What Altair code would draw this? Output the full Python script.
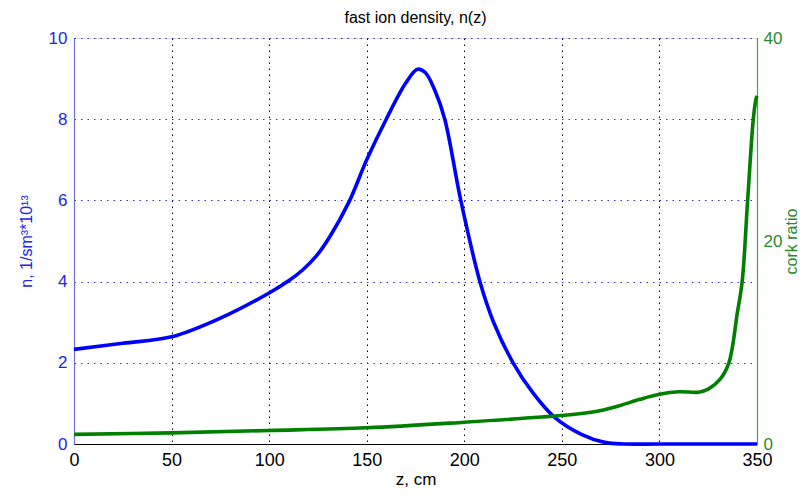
import altair as alt
import pandas as pd

# fast ion density n(z), units 1e13 1/cm^3
z_density = [0, 25, 50, 75, 100, 110, 117, 124, 131, 141, 150, 160, 170, 176,
             180, 185, 190, 198, 208, 215, 225, 235, 246, 260, 272, 282, 300, 350]
n_density = [2.33, 2.48, 2.64, 3.1, 3.72, 4.02, 4.28, 4.62, 5.1, 5.97, 7.0, 8.0,
             8.89, 9.23, 9.15, 8.7, 8.0, 6.05, 4.0, 3.0, 2.0, 1.27, 0.67, 0.24,
             0.04, 0.0, 0.0, 0.0]

# cork (mirror) ratio
z_cork = [0, 50, 100, 150, 200, 250, 260, 270, 280, 290, 300, 310, 320, 325,
          331, 335.6, 339.9, 342.4, 345.2, 348.1, 349.5, 350]
cork_ratio = [0.95, 1.1, 1.33, 1.6, 2.15, 2.8, 3.0, 3.3, 3.8, 4.4, 4.9, 5.15,
              5.1, 5.4, 6.36, 8.0, 12.9, 16.0, 24.0, 32.0, 34.0, 34.3]

x_ticks = [0, 50, 100, 150, 200, 250, 300, 350]
n_ticks = [0, 2, 4, 6, 8, 10]
cork_ticks = [0, 20, 40]

BLUE = "#0000ff"
BLUE_TXT = "#2424e6"
GREEN = "#007f00"
GREEN_TXT = "#2a8a2a"
FONT = "Liberation Sans"
NARROW = "Liberation Sans Narrow, Liberation Sans, Arial"

df_n = pd.DataFrame({"z": z_density, "n": n_density})
df_c = pd.DataFrame({"z": z_cork, "cork": cork_ratio})

x_enc = alt.X(
    "z:Q",
    scale=alt.Scale(domain=[0, 350], nice=False, zero=False),
    axis=alt.Axis(
        values=x_ticks, title="z, cm", labelFlush=False, ticks=False,
        grid=True, gridColor="#000000", gridDash=[1.5, 4.5], gridWidth=1,
        gridOpacity=1, domainColor="#000000", domainWidth=1,
        labelFont=NARROW, labelFontSize=18, labelColor="#000000",
        labelPadding=7, titleFont=NARROW, titleFontSize=17,
        titleFontWeight="normal", titleColor="#000000", titlePadding=2,
    ),
)

line_n = alt.Chart(df_n).mark_line(
    color=BLUE, strokeWidth=3.6, interpolate="catmull-rom"
).encode(
    x=x_enc,
    y=alt.Y(
        "n:Q",
        scale=alt.Scale(domain=[0, 10], nice=False),
        axis=alt.Axis(
            values=n_ticks, orient="left", title="n, 1/sm³*10¹³", ticks=False,
            grid=True, gridColor="#3030c8", gridDash=[1.5, 5], gridWidth=1,
            gridOpacity=1, domainColor="#6f6fd6", domainWidth=1.2,
            labelFont=FONT, labelFontSize=17, labelColor=BLUE_TXT,
            labelPadding=7, titleFont=FONT, titleFontSize=16,
            titleFontWeight="normal", titleColor=BLUE_TXT, titlePadding=14,
        ),
    ),
)

line_c = alt.Chart(df_c).mark_line(
    color=GREEN, strokeWidth=3.6, interpolate="catmull-rom"
).encode(
    x=alt.X("z:Q", scale=alt.Scale(domain=[0, 350], nice=False, zero=False)),
    y=alt.Y(
        "cork:Q",
        scale=alt.Scale(domain=[0, 40], nice=False),
        axis=alt.Axis(
            values=cork_ticks, orient="right", title="cork ratio", ticks=False,
            grid=False, domainColor="#4a9f4a", domainWidth=1.2,
            labelFont=FONT, labelFontSize=17, labelColor=GREEN_TXT,
            labelPadding=6, titleFont=FONT, titleFontSize=16,
            titleFontWeight="normal", titleColor=GREEN_TXT, titlePadding=18,
            titleAngle=270,
        ),
    ),
)

chart = (
    alt.layer(line_n, line_c)
    .resolve_scale(y="independent")
    .properties(
        width=683,
        height=406,
        autosize=alt.AutoSizeParams(type="none"),
        padding={"left": 66, "top": 30, "right": 46, "bottom": 45},
        title=alt.TitleParams(
            "fast ion density, n(z)", font=FONT, fontSize=16,
            fontWeight="normal", color="#000000", anchor="middle",
            frame="group", offset=3,
        ),
    )
    .configure_view(stroke="#000000", strokeWidth=1)
    .configure(background="#ffffff")
)

chart.save("out.html", embed_options={"renderer": "svg", "actions": False})
